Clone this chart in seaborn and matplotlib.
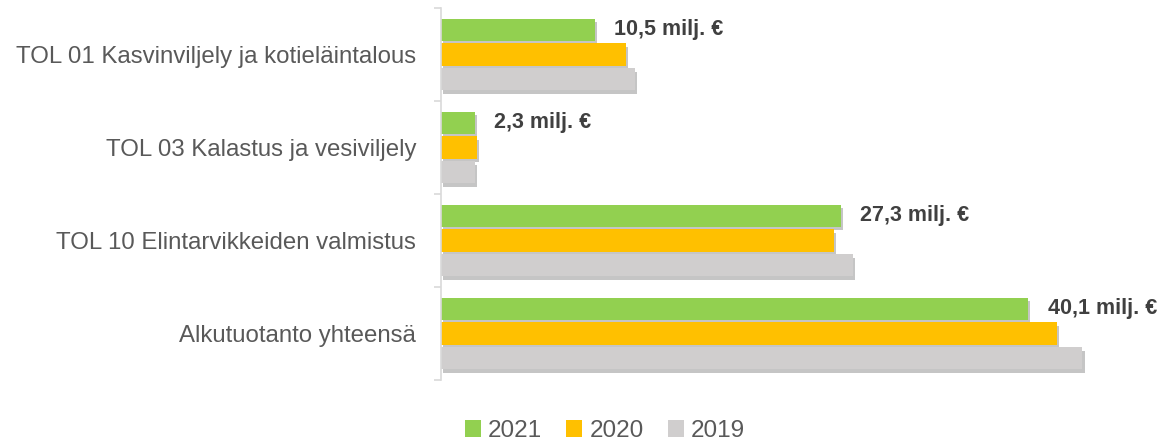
import pandas as pd
import seaborn as sns
import matplotlib.pyplot as plt
import matplotlib.patheffects as pe
from matplotlib.patches import Patch

# data
categories = ['TOL 01 Kasvinviljely ja kotieläintalous',
              'TOL 03 Kalastus ja vesiviljely',
              'TOL 10 Elintarvikkeiden valmistus',
              'Alkutuotanto yhteensä']
years = ['2021', '2020', '2019']
v2021 = [10.5, 2.3, 27.3, 40.1]
v2020 = [12.65, 2.44, 26.8, 42.05]
v2019 = [13.24, 2.32, 28.1, 43.8]
labels_2021 = ['10,5 milj. €', '2,3 milj. €', '27,3 milj. €', '40,1 milj. €']
colors = ['#92D050', '#FFC000', '#D0CECE']

df = pd.DataFrame({
    'kategoria': categories * 3,
    'vuosi': [y for y in years for _ in categories],
    'arvo': v2021 + v2020 + v2019,
})

sns.set_style('white')
plt.rcParams['font.family'] = ['Liberation Sans', 'DejaVu Sans']

fig = plt.figure(figsize=(11.57, 4.42), dpi=100)
ax = fig.add_axes([441 / 1157, 62 / 442, 703 / 1157, 372 / 442])

sns.barplot(data=df, y='kategoria', x='arvo', hue='vuosi', palette=colors,
            saturation=1, orient='h', width=0.8, gap=0.1, legend=False,
            linewidth=0, ax=ax)

# varjot palkeille
for bar in ax.patches:
    bar.set_path_effects([pe.SimplePatchShadow(offset=(1.5, -2.5), shadow_rgbFace='#8c8c8c', alpha=0.5),
                          pe.Normal()])

# arvot vain 2021
ax.bar_label(ax.containers[0], labels=labels_2021, padding=14,
             fontsize=15.5, fontweight='bold', color='#404040')

ax.set_xlim(0, 48)
ax.set_ylim(3.5, -0.5)
ax.set_xlabel('')
ax.set_ylabel('')
ax.set_xticks([])
for s in ['top', 'right', 'bottom']:
    ax.spines[s].set_visible(False)
ax.spines['left'].set_color('#D9D9D9')
ax.spines['left'].set_linewidth(1.2)

ax.set_yticks([-0.5, 0.5, 1.5, 2.5, 3.5], minor=True)
ax.tick_params(axis='y', which='minor', length=5, width=1.2, color='#D9D9D9', left=True)
ax.tick_params(axis='y', which='major', length=0, pad=18, labelsize=17.3, labelcolor='#595959')

handles = [Patch(facecolor=c, edgecolor='none') for c in colors]
fig.legend(handles, years, loc='center', bbox_to_anchor=(605 / 1157, 11 / 442), ncol=3,
           frameon=False, fontsize=17.5, handlelength=0.65, handleheight=0.65,
           handletextpad=0.3, columnspacing=1.0, labelcolor='#595959')

plt.savefig('out.png', dpi=100)
